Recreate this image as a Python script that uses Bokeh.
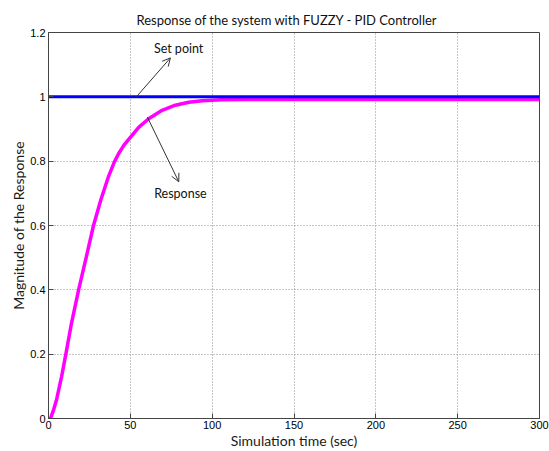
from bokeh.plotting import figure
from bokeh.models import (Range1d, FixedTicker, CustomJSTickFormatter, Arrow,
                          OpenHead, Label)
from bokeh.embed import file_html
from bokeh.resources import INLINE

# ---- data ----
resp_t = [1.2, 3, 5, 8, 10.6, 14, 18.4, 23, 27.5, 32, 36.7, 40.2, 42.8, 46,
          49, 55.1, 61.2, 69.4, 77.5, 85.7, 93.9, 106, 120, 150, 200, 250, 300]
resp_y = [0.0, 0.025, 0.06, 0.13, 0.2, 0.295, 0.4, 0.5, 0.6, 0.68, 0.753,
          0.797, 0.823, 0.849, 0.868, 0.905, 0.932, 0.958, 0.974, 0.983,
          0.988, 0.991, 0.992, 0.992, 0.992, 0.992, 0.992]
set_t = [0, 300]
set_y = [1.0, 1.0]

x_ticks = [0, 50, 100, 150, 200, 250, 300]
y_ticks = [0, 0.2, 0.4, 0.6, 0.8, 1, 1.2]

title_text = "Response of the system with FUZZY - PID Controller"
x_label = "Simulation time (sec)"
y_label = "Magnitude of the Response"

# annotations (data coords)
sp_arrow = [53.7, 1.0, 74.5, 1.121]
sp_text = ("Set point", 79.5, 1.151)
rs_arrow = [60.4, 0.937, 79.6, 0.736]
rs_text = ("Response", 80.6, 0.70)

label_font = "Lato"
tick_font = "Liberation Sans"

p = figure(width=549, height=451, output_backend="svg", toolbar_location=None,
           x_range=Range1d(0, 300), y_range=Range1d(0, 1.2),
           min_border_left=48, min_border_right=10, min_border_top=32,
           min_border_bottom=30)

p.title.text = title_text
p.title.text_font = label_font
p.title.text_font_size = "13px"
p.title.text_font_style = "normal"
p.title.align = "left"
p.title.offset = 88
p.title.text_color = "#111111"
p.title.standoff = 10

p.background_fill_color = "white"
p.border_fill_color = "white"
p.outline_line_color = "#444444"
p.outline_line_width = 1

for ax in (p.xaxis[0], p.yaxis[0]):
    ax.major_label_text_font = tick_font
    ax.major_label_text_font_size = "11px"
    ax.major_label_text_color = "#000000"
    ax.axis_line_color = "#444444"
    ax.major_tick_in = 5
    ax.major_tick_out = 0
    ax.major_tick_line_color = "#444444"
    ax.minor_tick_line_color = None
    ax.axis_label_text_font = label_font
    ax.axis_label_text_font_size = "14px"
    ax.axis_label_text_font_style = "normal"
    ax.axis_label_text_color = "#1a1a1a"
    ax.axis_label_standoff = 0
    ax.major_label_standoff = 3
    ax.formatter = CustomJSTickFormatter(code="return String(tick);")

p.xaxis[0].ticker = FixedTicker(ticks=x_ticks)
p.yaxis[0].ticker = FixedTicker(ticks=y_ticks)
p.xaxis[0].axis_label = x_label
p.yaxis[0].axis_label = y_label
p.xaxis[0].major_label_standoff = 2

for g in (p.xgrid[0], p.ygrid[0]):
    g.grid_line_color = "#8c8c8c"
    g.grid_line_dash = "1 2"
    g.grid_line_width = 1

p.line(resp_t, resp_y, line_color="#ff00ff", line_width=3.5, line_join="round")
p.line(set_t, set_y, line_color="#0000ff", line_width=3)

for arr in (sp_arrow, rs_arrow):
    p.add_layout(Arrow(end=OpenHead(size=8, line_color="#333333", line_width=1),
                       x_start=arr[0], y_start=arr[1], x_end=arr[2], y_end=arr[3],
                       line_color="#333333", line_width=1))

for txt, tx, ty in (sp_text, rs_text):
    p.add_layout(Label(x=tx, y=ty, text=txt, text_font=label_font,
                       text_font_size="12.5px", text_color="#111111",
                       text_align="center", text_baseline="middle"))

open("out.html", "w").write(file_html(p, INLINE))
